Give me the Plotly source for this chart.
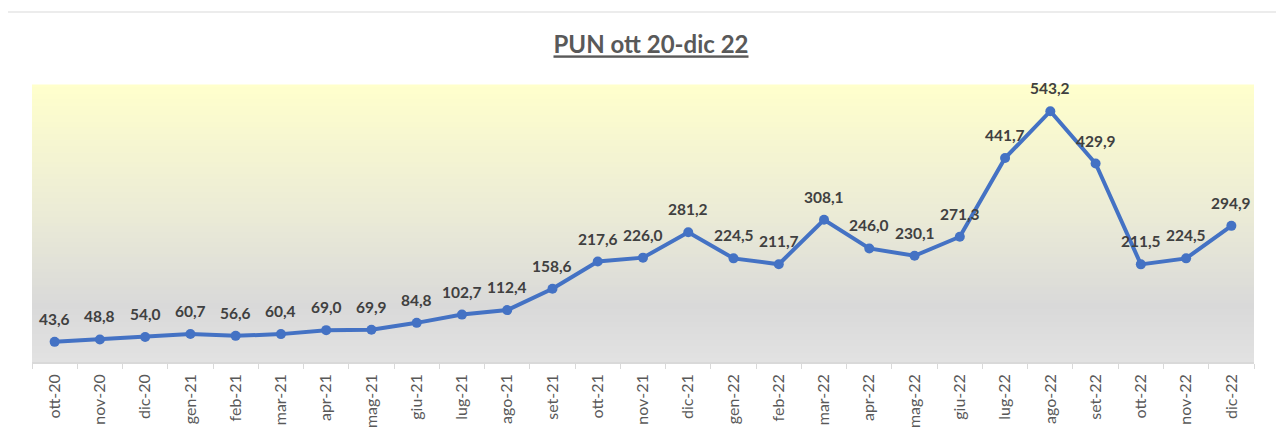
import plotly.graph_objects as go

categories = ["ott-20", "nov-20", "dic-20", "gen-21", "feb-21", "mar-21", "apr-21", "mag-21", "giu-21",
              "lug-21", "ago-21", "set-21", "ott-21", "nov-21", "dic-21", "gen-22", "feb-22", "mar-22",
              "apr-22", "mag-22", "giu-22", "lug-22", "ago-22", "set-22", "ott-22", "nov-22", "dic-22"]
pun = [43.6, 48.8, 54.0, 60.7, 56.6, 60.4, 69.0, 69.9, 84.8, 102.7, 112.4, 158.6, 217.6, 226.0, 281.2,
       224.5, 211.7, 308.1, 246.0, 230.1, 271.3, 441.7, 543.2, 429.9, 211.5, 224.5, 294.9]
title_text = "PUN ott 20-dic 22"

# page has an 8px body margin; compensate
OFF = 8
W, H = 1284, 435
ml, mt = 32 - OFF, 85 - OFF
mr = W - (1254 - OFF)
mb = H - (362 - OFF)
pw, ph = W - ml - mr, H - mt - mb

fig = go.Figure()
fig.add_trace(go.Scatter(
    x=categories, y=pun, mode="lines+markers",
    line=dict(color="#4472C4", width=4),
    marker=dict(color="#4472C4", size=10),
    hoverinfo="x+y", showlegend=False,
))

# gradient background bands
stops = [(0.0, (255, 255, 204)), (0.45, (236, 236, 214)), (0.8, (217, 217, 217)), (1.0, (226, 226, 226))]
def col(t):
    for (t0, c0), (t1, c1) in zip(stops[:-1], stops[1:]):
        if t0 <= t <= t1:
            f = (t - t0) / (t1 - t0)
            return "rgb(%d,%d,%d)" % tuple(round(a + (b - a) * f) for a, b in zip(c0, c1))
    return "rgb(226,226,226)"

shapes = []
n = 90
for i in range(n):
    t = (i + 0.5) / n  # 0 top -> 1 bottom
    shapes.append(dict(type="rect", xref="x domain", yref="y domain",
                       x0=0, x1=1, y0=1 - (i + 1) / n - 0.002, y1=1 - i / n + 0.002,
                       fillcolor=col(t), line=dict(width=0), layer="below"))
# chart frame top line
fy = 1 + (mt - (12 - OFF)) / ph
fx = (0 - ml) / pw
shapes.append(dict(type="line", xref="paper", yref="paper", x0=fx, x1=1.1, y0=fy, y1=fy,
                   line=dict(color="#D9D9D9", width=1)))

annotations = []
for c, v in zip(categories, pun):
    annotations.append(dict(x=c, y=v, xref="x", yref="y", text=("%.1f" % v).replace(".", ","),
                            showarrow=False, yshift=23,
                            font=dict(family="Lato, sans-serif", size=15.5, color="#404040", weight="bold")))

fig.update_layout(
    width=W, height=H,
    margin=dict(l=ml, r=mr, t=mt, b=mb),
    paper_bgcolor="white", plot_bgcolor="rgba(0,0,0,0)",
    title=dict(text="<b><u>" + title_text + "</u></b>", x=(651 - OFF) / W, xanchor="center",
               y=1 - (45 - OFF) / H, yanchor="middle",
               font=dict(family="Lato, sans-serif", size=24, color="#595959")),
    shapes=shapes, annotations=annotations,
    separators=",.",
    xaxis=dict(type="category", tickangle=-90, tickson="boundaries", ticks="outside", ticklen=5,
               tickcolor="#D9D9D9", showline=True, linecolor="#D9D9D9", linewidth=1.5,
               showgrid=False, tickfont=dict(family="Lato, sans-serif", size=16, color="#595959"),
               ticklabelstandoff=4,
               range=[-0.5, len(categories) - 0.5]),
    yaxis=dict(range=[0, 600], showticklabels=False, showgrid=False, zeroline=False, showline=False,
               ticks=""),
)
fig.write_html("out.html")
